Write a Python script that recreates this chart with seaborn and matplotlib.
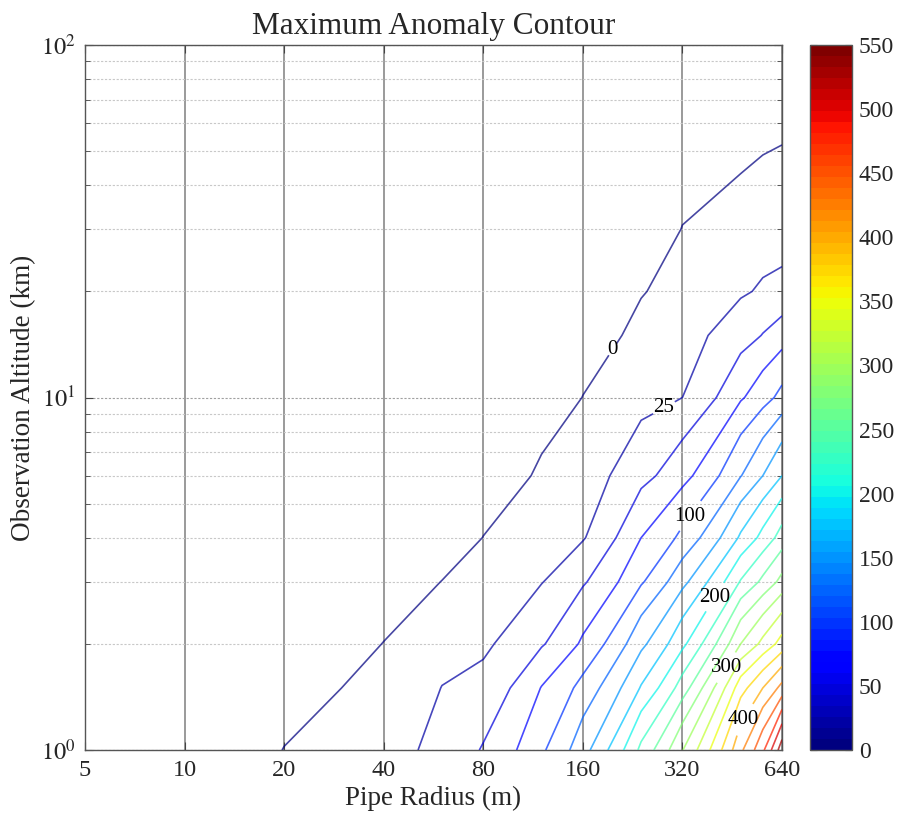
import numpy as np
import seaborn as sns
import matplotlib
matplotlib.use("Agg")
import matplotlib.pyplot as plt
from matplotlib.colors import Normalize
from matplotlib.ticker import FixedLocator, FixedFormatter, LogLocator, NullFormatter, NullLocator

# =========================
# DATA
# =========================

pipe_radius = [5, 10, 20, 40, 60, 80, 120, 160, 240, 320, 480, 560, 640]
altitude = [1, 1.5, 2, 3, 4, 6, 10, 15, 20, 30, 55, 100]

# max anomaly, one row per altitude, one column per radius
anomaly = [
    [-18, -10, 0.3, 15, 33.5, 52, 96, 140.5, 231, 299, 420, 470, 540],
    [-22, -15, -6, 6.2, 25.5, 31.7, 76, 108, 177, 237, 365, 400, 433],
    [-26, -19, -10, 0.3, 15.2, 20.8, 47.5, 79, 144, 194, 300, 332, 360],
    [-32, -25, -14, -9, 0.3, 8.6, 24, 47, 97, 143, 227, 256, 283],
    [-36, -29, -18, -15, -10, 0.3, 15.6, 23, 75, 106, 179, 208, 236],
    [-42, -35, -24, -22, -20, -12, 3.2, 13, 42, 66.5, 124, 150, 175],
    [-50, -43, -32, -30, -29, -27.5, -11, 0.3, 16, 25, 72, 90, 107.5],
    [-58, -52, -42, -40, -40, -40, -23, -10, 6, 16, 39, 51, 63.5],
    [-64, -58, -50, -48, -48, -48, -31, -18, -1.3, 9, 22, 28, 30.4],
    [-72, -66, -60, -60, -60, -60, -43, -28, -11, 0.5, 10, 12, 15],
    [-85, -80, -75, -75, -75, -75, -60, -45, -27, -14, -9, -4, -2],
    [-95, -92, -90, -90, -90, -90, -75, -60, -40, -27, -25, -22, -20],
]

labelled_levels = [0, 25, 100, 200, 300, 400]
plain_levels = [50, 75, 125, 150, 175, 225, 250, 275, 325, 350, 375,
                425, 450, 475, 500, 525]

radius_ticks = [5, 10, 20, 40, 80, 160, 320, 640]
altitude_ticks = [1, 10, 100]
altitude_ticklabels = [r"$10^{0}$", r"$10^{1}$", r"$10^{2}$"]
cbar_ticks = [0, 50, 100, 150, 200, 250, 300, 350, 400, 450, 500, 550]

# =========================
# STYLE
# =========================

sns.set_style("ticks")
plt.rcParams["font.family"] = ["Liberation Serif", "DejaVu Serif"]
plt.rcParams["mathtext.fontset"] = "stix"

jet64 = matplotlib.colormaps["jet"].resampled(64)
norm = Normalize(vmin=0, vmax=550)

fig = plt.figure(figsize=(8.99, 8.18), dpi=100)
ax = fig.add_axes([85 / 899, 68 / 818, 697 / 899, 705 / 818])
cax = fig.add_axes([810 / 899, 68 / 818, 42 / 899, 705 / 818])

# =========================
# CONTOURS
# =========================

R, H = np.meshgrid(pipe_radius, altitude)
Z = np.array(anomaly)

ax.contour(R, H, Z, levels=plain_levels, cmap=jet64, norm=norm,
           linewidths=1.2, alpha=0.72, zorder=3)
cs_lab = ax.contour(R, H, Z, levels=labelled_levels, cmap=jet64, norm=norm,
                    linewidths=1.2, alpha=0.72, zorder=3)

ax.set_xscale("log", base=2)
ax.set_yscale("log")
ax.set_xlim(5, 640)
ax.set_ylim(1, 100)

# label spots (data coords) close to where the reference puts them
label_spots = [(193, 13.8), (287, 9.0), (342, 4.55), (401, 2.7), (396, 1.8), (461, 1.26)]
labels = ax.clabel(cs_lab, fmt="%d", fontsize=15, colors="black",
                   inline=True, inline_spacing=2, manual=label_spots)
for t in labels:
    t.set_rotation(0)
    t.set_alpha(1)

# =========================
# AXES / GRID
# =========================

ax.xaxis.set_major_locator(FixedLocator(radius_ticks))
ax.xaxis.set_major_formatter(FixedFormatter([str(t) for t in radius_ticks]))
ax.xaxis.set_minor_locator(NullLocator())
ax.yaxis.set_major_locator(FixedLocator(altitude_ticks))
ax.yaxis.set_major_formatter(FixedFormatter(altitude_ticklabels))
ax.yaxis.set_minor_locator(LogLocator(base=10, subs=[2, 3, 4, 5, 6, 7, 8, 9]))
ax.yaxis.set_minor_formatter(NullFormatter())

ax.grid(True, axis="x", which="major", color="#9a9a9a", lw=1.4, ls="-", zorder=1)
ax.grid(True, axis="y", which="major", color="#a0a0a0", lw=0.8, ls=(0, (2, 1.5)), zorder=1)
ax.grid(True, axis="y", which="minor", color="#c8c8c8", lw=0.8, ls=(0, (2, 1.5)), zorder=1)
ax.set_axisbelow(True)

ax.tick_params(which="both", direction="in", top=True, right=True,
               color="#444444", labelsize=17.5, pad=7)
ax.tick_params(which="major", length=6)
ax.tick_params(which="minor", length=3.5)
for s in ax.spines.values():
    s.set_color("#555555")
    s.set_linewidth(1.0)

ax.set_title("Maximum Anomaly Contour", fontsize=22.5, pad=8)
ax.set_xlabel("Pipe Radius (m)", fontsize=19.5, labelpad=4)
ax.set_ylabel("Observation Altitude (km)", fontsize=19.5, labelpad=3)

# =========================
# COLORBAR
# =========================

sm = plt.cm.ScalarMappable(norm=norm, cmap=jet64)
cb = fig.colorbar(sm, cax=cax, ticks=cbar_ticks)
cb.ax.tick_params(direction="in", length=5, left=True, right=True,
                  color="#333333", labelsize=17, pad=5)
cb.outline.set_edgecolor("#555555")
cb.outline.set_linewidth(1.0)

fig.savefig("out.png", dpi=100)
